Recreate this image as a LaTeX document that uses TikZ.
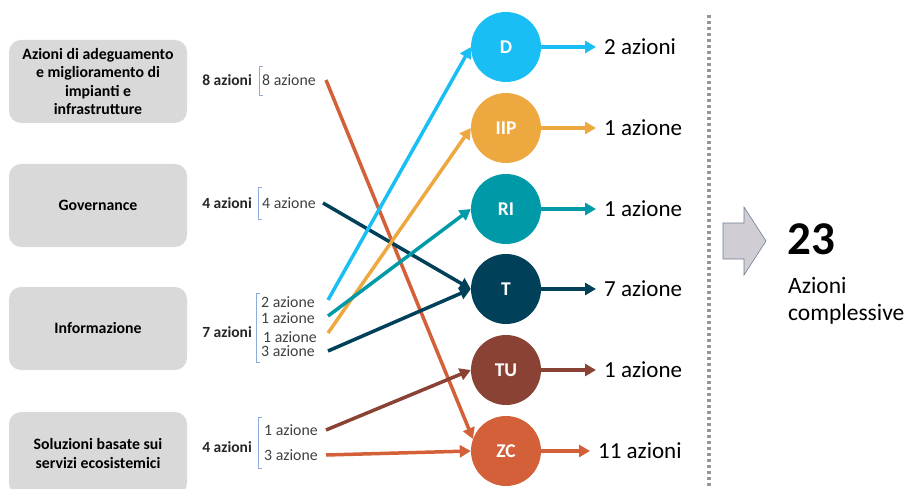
\documentclass[tikz,border=0pt]{standalone}
\usepackage{fontspec}
\setmainfont{Carlito}
\usetikzlibrary{arrows.meta}

\definecolor{cD}{RGB}{25,190,245}
\definecolor{cIIP}{RGB}{238,168,64}
\definecolor{cRI}{RGB}{0,153,168}
\definecolor{cT}{RGB}{0,64,88}
\definecolor{cTU}{RGB}{138,66,52}
\definecolor{cZC}{RGB}{211,96,56}
\definecolor{boxgray}{RGB}{217,217,217}
\definecolor{brackblue}{RGB}{143,170,220}
\definecolor{labgray}{RGB}{64,64,64}
\definecolor{dotgray}{RGB}{150,150,150}

\begin{document}
\begin{tikzpicture}[x=1pt, y=-1pt,
  box/.style={rectangle, rounded corners=12pt, fill=boxgray,
              minimum width=178pt, minimum height=83pt, align=center,
              font=\fontsize{15.8}{18.5}\selectfont\bfseries},
  count/.style={anchor=east, inner sep=0pt, text=black!85,
                font=\fontsize{15.5}{18.5}\selectfont\bfseries},
  small/.style={anchor=west, inner sep=0pt, text=labgray,
                font=\fontsize{15.8}{18.5}\selectfont},
  brack/.style={draw=brackblue, line width=0.8pt},
  circ/.style={circle, minimum size=70pt, inner sep=0pt, text=white,
               font=\fontsize{19.5}{22}\selectfont\bfseries},
  total/.style={anchor=west, inner sep=0pt,
                font=\fontsize{23}{27}\selectfont},
  arrow/.style={line width=3.5pt, -{Triangle[length=11pt,width=12pt]}},
  outarrow/.style={arrow, shorten >=8pt}
]
\useasboundingbox (0,0) rectangle (904,489);

% categories
\node[box] (adeg) at (98,81.5) {Azioni di adeguamento\\e miglioramento di\\impianti e\\infrastrutture};
\node[box] (gov)  at (98,205.5) {Governance};
\node[box] (info) at (98,328.5) {Informazione};
\node[box] (sol)  at (98,453.5) {Soluzioni basate sui\\servizi ecosistemici};

\node[count] (n1) at (252,80)  {8 azioni};
\node[count] (n2) at (252,203) {4 azioni};
\node[count] (n3) at (252,332) {7 azioni};
\node[count] (n4) at (252,447) {4 azioni};

\draw[brack] (263,66) -| (259,95) -- (263,95);
\draw[brack] (262,187) -| (258,219) -- (262,219);
\draw[brack] (260,293) -| (256,362) -- (260,362);
\draw[brack] (262,417) -| (258,468) -- (262,468);

\node[small] (a8)  at (262,80)  {8 azione};
\node[small] (a4)  at (262,203) {4 azione};
\node[small] (a2)  at (261,302) {2 azione};
\node[small] (a1a) at (261,318) {1 azione};
\node[small] (a1b) at (263,337) {1 azione};
\node[small] (a3)  at (261,351) {3 azione};
\node[small] (a1c) at (264,430) {1 azione};
\node[small] (a3b) at (264,455) {3 azione};

% start points of the links
\coordinate (s8)  at (326,80);
\coordinate (s4)  at (323,203);
\coordinate (s2)  at (328,300);
\coordinate (s1a) at (328,316);
\coordinate (s1b) at (328,333);
\coordinate (s3)  at (328,351);
\coordinate (s1c) at (326,430);
\coordinate (s3b) at (326,455);

% objectives
\node[circ, fill=cD]   (D)   at (506,47)  {D};
\node[circ, fill=cIIP] (IIP) at (506,128) {IIP};
\node[circ, fill=cRI]  (RI)  at (506,209) {RI};
\node[circ, fill=cT]   (T)   at (506,289) {T};
\node[circ, fill=cTU]  (TU)  at (506,370) {TU};
\node[circ, fill=cZC]  (ZC)  at (506,451) {ZC};

\node[total] (rD)   at (604,47)  {2 azioni};
\node[total] (rIIP) at (604,128) {1 azione};
\node[total] (rRI)  at (604,209) {1 azione};
\node[total] (rT)   at (604,289) {7 azione};
\node[total] (rTU)  at (604,370) {1 azione};
\node[total] (rZC)  at (598,451) {11 azioni};

\draw[arrow, cZC] (s8)  -- (ZC.160);
\draw[arrow, cT]  (s4)  -- (T.west);
\draw[arrow, cD]  (s2)  -- (D.west);
\draw[arrow, cIIP] (s1b) -- (IIP.west);
\draw[arrow, cRI] (s1a) -- (RI.west);
\draw[arrow, cT]  (s3)  -- (T.west);
\draw[arrow, cTU] (s1c) -- (TU.west);
\draw[arrow, cZC] (s3b) -- (ZC.west);

\draw[outarrow, cD]   (D)   -- (rD);
\draw[outarrow, cIIP] (IIP) -- (rIIP);
\draw[outarrow, cRI]  (RI)  -- (rRI);
\draw[outarrow, cT]   (T)   -- (rT);
\draw[outarrow, cTU]  (TU)  -- (rTU);
\draw[outarrow, cZC]  (ZC)  -- (rZC);

% total
\draw[dotgray, line width=3.5pt, dash pattern=on 3pt off 3pt] (709,15) -- (709,489);
\draw[fill={rgb,255:red,208;green,206;blue,212}, draw={rgb,255:red,110;green,125;blue,150}, line width=0.6pt]
  (723,223) -- (744,223) -- (744,207) -- (766,241) -- (744,275) -- (744,259) -- (723,259) -- cycle;
\node[anchor=west, inner sep=0pt, font=\fontsize{47}{50}\selectfont\bfseries] (sum) at (787,239) {23};
\node[anchor=north west, inner sep=0pt, align=left, font=\fontsize{23.5}{27}\selectfont] (sumlab) at (788,277) {Azioni\\complessive};
\end{tikzpicture}
\end{document}
